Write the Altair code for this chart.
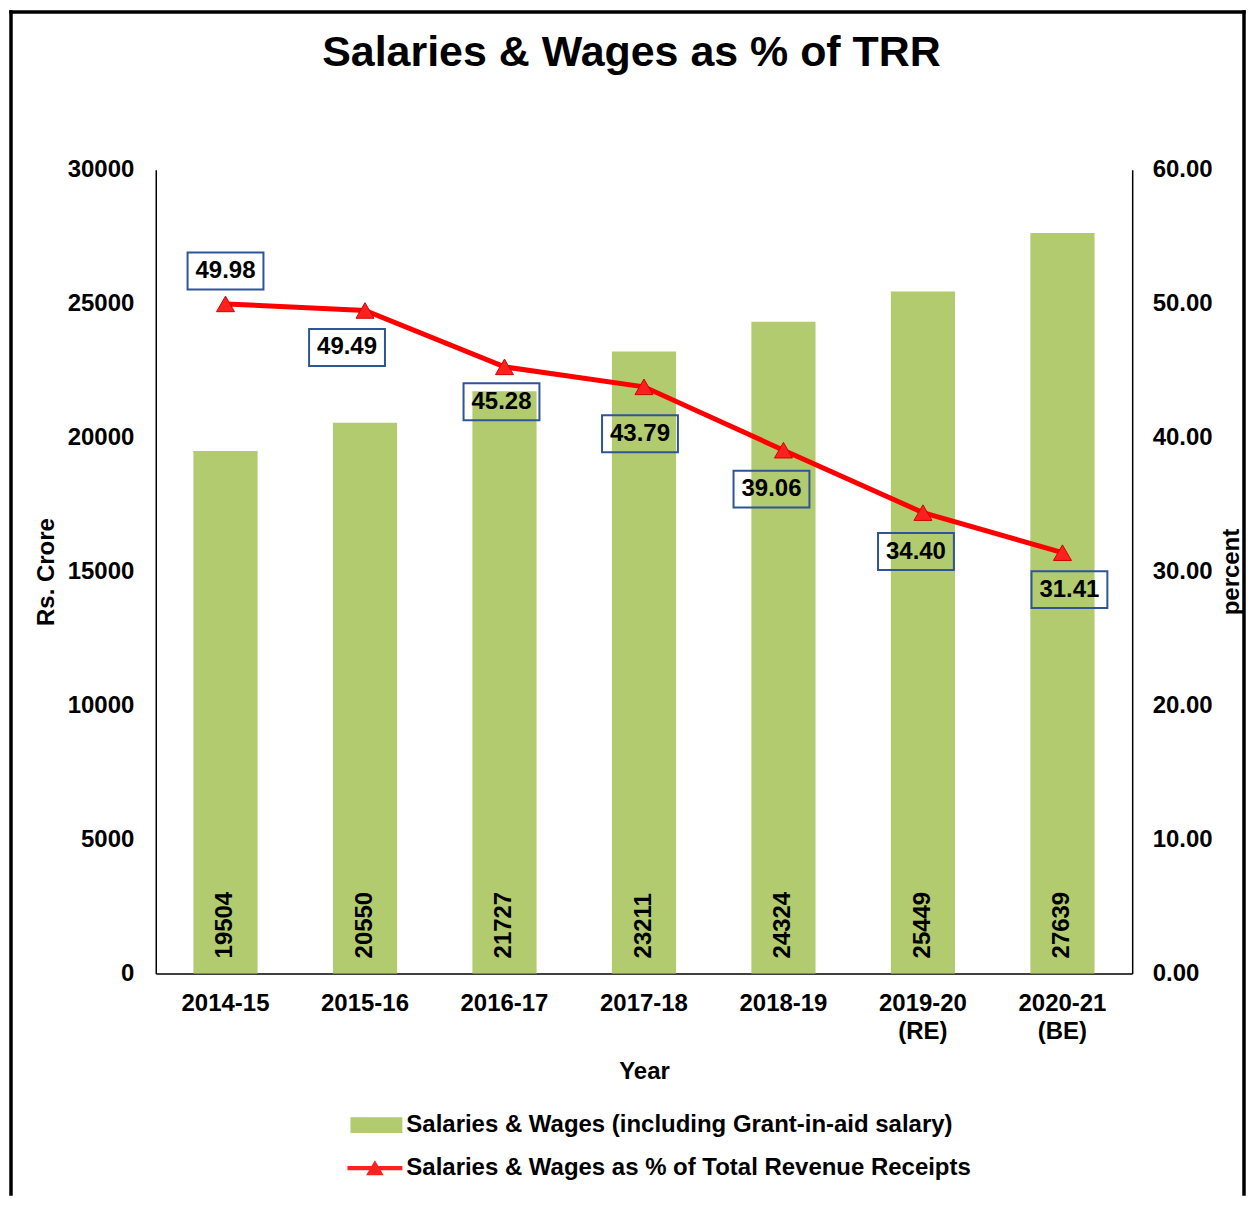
import altair as alt
import pandas as pd

# ---- data ----
years = ["2014-15", "2015-16", "2016-17", "2017-18", "2018-19", "2019-20 (RE)", "2020-21 (BE)"]
salaries = [19504, 20550, 21727, 23211, 24324, 25449, 27639]
percent = [49.98, 49.49, 45.28, 43.79, 39.06, 34.40, 31.41]
bar_name = "Salaries & Wages (including Grant-in-aid salary)"
line_name = "Salaries & Wages as % of Total Revenue Receipts"
title_text = "Salaries & Wages as % of TRR"

# ---- layout (label box offsets, in pixels, relative to the point) ----
lab_dx = [0, -18, -3, -4, -12, -7, 7]
lab_dy = [-33, 37, 35, 47, 39, 39, 37]

df = pd.DataFrame({
    "year": years,
    "sal": salaries,
    "pct": percent,
    "bar_series": [bar_name] * len(years),
    "line_series": [line_name] * len(years),
})

W, H = 978, 805
FONT = "Liberation Sans"
GREEN = "#B2CB6E"
RED = "#FF0000"
BOXC = "#2F5597"

x_enc = alt.X(
    "year:N", sort=years,
    scale=alt.Scale(paddingInner=0.54, paddingOuter=0.27),
    axis=alt.Axis(
        title="Year", labelAngle=0, labelExpr="split(datum.label, ' ')",
        ticks=False, labelPadding=18, labelFontSize=24, labelFontWeight="bold",
        labelColor="black", labelLineHeight=28, titleFontSize=24,
        titleFontWeight="bold", titleColor="black", titlePadding=16,
        domainColor="black", domainWidth=1.5, grid=False, labelLimit=0,
    ),
)

left_scale = alt.Scale(domain=[0, 30000])
left_axis = alt.Axis(
    title="Rs. Crore", values=[0, 5000, 10000, 15000, 20000, 25000, 30000],
    format="d", ticks=False, labelPadding=22, labelFontSize=24,
    labelFontWeight="bold", labelColor="black", titleFontSize=24,
    titleFontWeight="bold", titleColor="black", titlePadding=9,
    domainColor="black", domainWidth=1.5, grid=False,
)
right_scale = alt.Scale(domain=[0, 60])
right_axis = alt.Axis(
    orient="right", title="percent", values=[0, 10, 20, 30, 40, 50, 60],
    format=".2f", ticks=False, labelPadding=20, labelFontSize=24,
    labelFontWeight="bold", labelColor="black", titleFontSize=24,
    titleFontWeight="bold", titleColor="black", titlePadding=7,
    titleAngle=270, titleBaseline="top",
    domainColor="black", domainWidth=1.5, grid=False,
)

base = alt.Chart(df)

bar_legend_path = "M-1,-0.3L1,-0.3L1,0.3L-1,0.3Z"
line_legend_path = "M-1,-0.08L1,-0.08L1,0.08L-1,0.08Z M0,-0.29L0.32,0.26L-0.32,0.26Z"

bars = base.mark_bar().encode(
    x=x_enc,
    y=alt.Y("sal:Q", scale=left_scale, axis=left_axis),
    fill=alt.Fill(
        "bar_series:N", scale=alt.Scale(range=[GREEN]),
        legend=alt.Legend(
            title=None, orient="none", legendX=195, legendY=931, padding=0,
            symbolType=bar_legend_path, symbolSize=2704, symbolStrokeWidth=0,
            labelFont=FONT, labelFontSize=24, labelFontWeight="bold",
            labelColor="black", labelLimit=0, labelOffset=4,
        ),
    ),
)

bar_text = base.mark_text(
    angle=270, align="left", baseline="middle", dx=15,
    font=FONT, fontSize=24, fontWeight="bold", color="black",
).encode(
    x=x_enc,
    y=alt.Y(datum=0, scale=left_scale, axis=left_axis),
    text=alt.Text("sal:Q", format="d"),
)

one = alt.Chart(pd.DataFrame({"k": [0]}))
frame_style = dict(color="black", strokeWidth=3.5, strokeCap="square")
frame_left = one.mark_rule(**frame_style).encode(
    x=alt.value(-145), y=alt.value(-158), y2=alt.value(1026))
frame_right = one.mark_rule(**frame_style).encode(
    x=alt.value(1090), y=alt.value(-158), y2=alt.value(1026))
frame_top = one.mark_rule(**frame_style).encode(
    x=alt.value(-145), x2=alt.value(1090), y=alt.value(-158))
title = one.mark_text(
    align="center", baseline="alphabetic", font=FONT, fontSize=43,
    fontWeight="bold", color="black",
).encode(x=alt.value(476.5), y=alt.value(-104), text=alt.value(title_text))

left = alt.layer(bars, bar_text, frame_left, frame_right, frame_top, title)

y_right = alt.Y("pct:Q", scale=right_scale, axis=right_axis)

line = base.mark_line(color=RED, strokeWidth=5).encode(x=x_enc, y=y_right)
tri = base.mark_point(
    shape="triangle-up", size=324, filled=True, opacity=1,
    stroke="#D00000", strokeWidth=1,
).encode(
    x=x_enc, y=y_right,
    fill=alt.Fill(
        "line_series:N", scale=alt.Scale(range=["#FF2020"]),
        legend=alt.Legend(
            title=None, orient="none", legendX=192, legendY=972.5, padding=0,
            symbolType=line_legend_path, symbolSize=3025, symbolStrokeWidth=0,
            labelFont=FONT, labelFontSize=24, labelFontWeight="bold",
            labelColor="black", labelLimit=0, labelOffset=4,
        ),
    ),
)

label_layers = []
for yr, ox, oy in zip(years, lab_dx, lab_dy):
    sub = base.transform_filter(alt.datum.year == yr)
    box_path = f"M{ox-38},{oy-18.5}L{ox+38},{oy-18.5}L{ox+38},{oy+18.5}L{ox-38},{oy+18.5}Z"
    box = sub.mark_point(
        shape=box_path, size=4, filled=False, opacity=1,
        stroke=BOXC, strokeWidth=2,
    ).encode(x=x_enc, y=y_right)
    txt = sub.mark_text(
        dx=ox, dy=oy, align="center", baseline="middle",
        font=FONT, fontSize=24, fontWeight="bold", color="black",
    ).encode(x=x_enc, y=y_right, text=alt.Text("pct:Q", format=".2f"))
    label_layers += [box, txt]

right = alt.layer(line, tri, *label_layers)

chart = (
    alt.layer(left, right)
    .resolve_scale(y="independent", fill="independent")
    .resolve_legend(fill="independent")
    .properties(width=W, height=H, padding=0, background="white")
    .configure(font=FONT)
    .configure_view(stroke=None)
)

chart.save("out.html", embed_options={"renderer": "svg", "actions": False})
